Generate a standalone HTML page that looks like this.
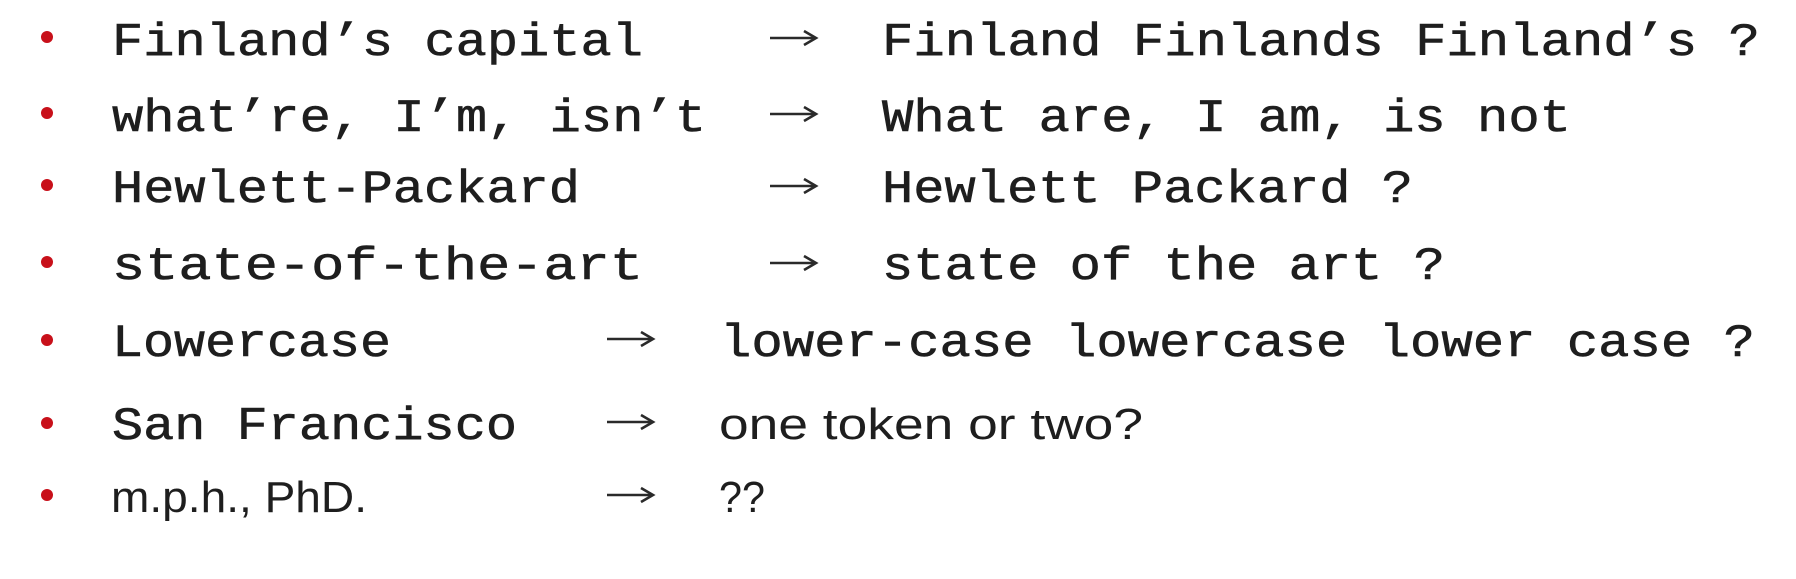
<!DOCTYPE html>
<html><head><meta charset="utf-8"><style>
html,body{margin:0;padding:0;background:#fff;}
svg{display:block;}
.m{font-family:"Liberation Mono",monospace;font-size:46px;fill:#1e1e1e;stroke:#1e1e1e;stroke-width:0.6;}
.s{font-family:"Liberation Sans",sans-serif;font-size:44px;fill:#1e1e1e;}
</style></head><body>
<svg width="1796" height="579" viewBox="0 0 1796 579" xmlns="http://www.w3.org/2000/svg">
<rect width="1796" height="579" fill="#fff"/>
<defs>
<g id="arr"><line x1="0" y1="0" x2="44" y2="0" stroke="#2a2a2a" stroke-width="2.6"/><path d="M34,-7 L46,0 L34,7" fill="none" stroke="#2a2a2a" stroke-width="2.6"/></g>
</defs>
<g fill="#c8101a">
<circle cx="47" cy="37" r="6"/>
<circle cx="47" cy="113" r="6"/>
<circle cx="47" cy="185" r="6"/>
<circle cx="47" cy="262" r="6"/>
<circle cx="47" cy="340" r="6"/>
<circle cx="47" cy="423" r="6"/>
<circle cx="47" cy="495" r="6"/>
</g>
<text class="m" x="112" y="55" textLength="531" lengthAdjust="spacingAndGlyphs">Finland’s capital</text>
<use href="#arr" x="770" y="38"/>
<text class="m" x="882" y="55" textLength="878" lengthAdjust="spacingAndGlyphs">Finland Finlands Finland’s ?</text>
<text class="m" x="112" y="131" textLength="594" lengthAdjust="spacingAndGlyphs">what’re, I’m, isn’t</text>
<use href="#arr" x="770" y="114"/>
<text class="m" x="882" y="131" textLength="689" lengthAdjust="spacingAndGlyphs">What are, I am, is not</text>
<text class="m" x="112" y="202" textLength="468" lengthAdjust="spacingAndGlyphs">Hewlett-Packard</text>
<use href="#arr" x="770" y="186"/>
<text class="m" x="882" y="202" textLength="531" lengthAdjust="spacingAndGlyphs">Hewlett Packard ?</text>
<text class="m" x="112" y="279" textLength="531" lengthAdjust="spacingAndGlyphs">state-of-the-art</text>
<use href="#arr" x="770" y="263"/>
<text class="m" x="882" y="279" textLength="563" lengthAdjust="spacingAndGlyphs">state of the art ?</text>
<text class="m" x="112" y="356" textLength="279" lengthAdjust="spacingAndGlyphs">Lowercase</text>
<use href="#arr" x="607" y="339"/>
<text class="m" x="720" y="356" textLength="1035" lengthAdjust="spacingAndGlyphs">lower-case lowercase lower case ?</text>
<text class="m" x="112" y="439" textLength="405" lengthAdjust="spacingAndGlyphs">San Francisco</text>
<use href="#arr" x="607" y="422"/>
<text class="s" x="719" y="439" textLength="424" lengthAdjust="spacingAndGlyphs">one token or two?</text>
<text class="s" x="111" y="512" textLength="256" lengthAdjust="spacingAndGlyphs">m.p.h., PhD.</text>
<use href="#arr" x="607" y="495"/>
<text class="s" x="719" y="512" textLength="46" lengthAdjust="spacingAndGlyphs">??</text>
</svg>
</body></html>
